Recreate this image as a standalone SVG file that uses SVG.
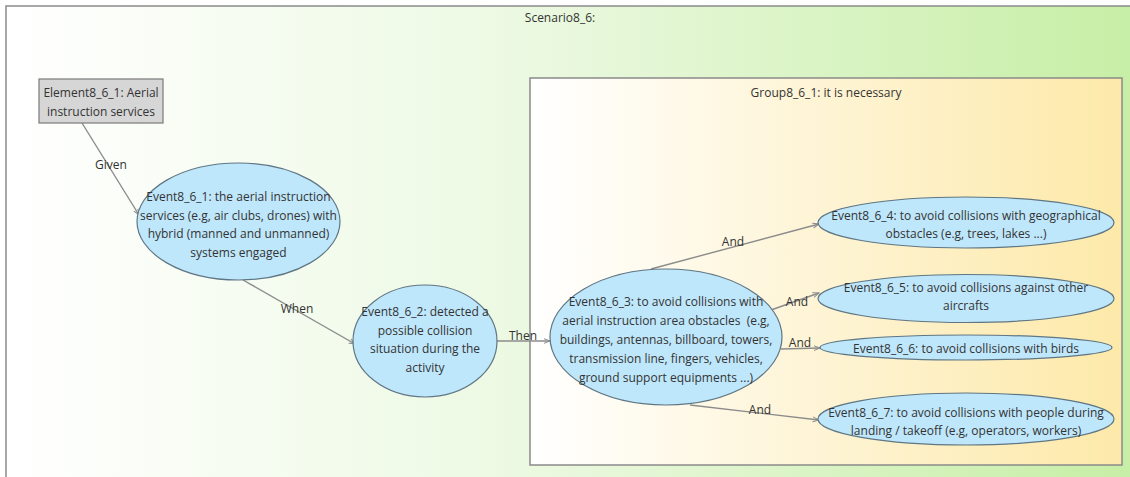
<svg xmlns="http://www.w3.org/2000/svg" width="1130" height="477" viewBox="0 0 1130 477">
  <defs>
    <linearGradient id="scenarioFill" x1="0" y1="0" x2="1" y2="0">
      <stop offset="0" stop-color="#ffffff"/>
      <stop offset="0.45" stop-color="#ecf9e2"/>
      <stop offset="1" stop-color="#c6eea4"/>
    </linearGradient>
    <linearGradient id="groupFill" x1="0" y1="0" x2="1" y2="0">
      <stop offset="0" stop-color="#ffffff"/>
      <stop offset="1" stop-color="#fde9a9"/>
    </linearGradient>
    <marker id="arrow" viewBox="0 0 10 10" refX="9" refY="5" markerWidth="7" markerHeight="7" orient="auto" markerUnits="userSpaceOnUse">
      <path d="M0,1.5 L9,5 L0,8.5" fill="none" stroke="#8c8c8c" stroke-width="1.4"/>
    </marker>
  </defs>
  <style>
    text { font-family: "Open Sans", "Noto Sans", "DejaVu Sans", sans-serif; font-size: 12px; fill: #333333; text-anchor: middle; }
    .event { fill: #bfe7fb; stroke: #5f7684; stroke-width: 1.2; }
    .element { fill: #d6d6d6; stroke: #7a7a7a; stroke-width: 1.2; }
    .edge { fill: none; stroke: #8c8c8c; stroke-width: 1.4; marker-end: url(#arrow); }
    .frame { stroke: #8a8a8a; stroke-width: 1.5; }
  </style>

  <rect width="1130" height="477" fill="#ffffff"/>

  <!-- scenario frame -->
  <g id="scenario">
    <rect x="6" y="6" width="1140" height="490" fill="url(#scenarioFill)" class="frame"/>
    <text x="560" y="22">Scenario8_6:</text>
  </g>

  <!-- group frame -->
  <g id="group8_6_1">
    <rect x="530" y="78" width="592" height="387" fill="url(#groupFill)" class="frame"/>
    <text x="826" y="97">Group8_6_1: it is necessary</text>
  </g>

  <!-- connectors -->
  <g id="connectors">
    <line class="edge" x1="82" y1="123" x2="139" y2="215"/>
    <text x="111" y="169">Given</text>
    <line class="edge" x1="243" y1="280" x2="355" y2="344"/>
    <text x="297" y="313">When</text>
    <line class="edge" x1="497" y1="341" x2="550" y2="341"/>
    <text x="523" y="340">Then</text>
    <line class="edge" x1="651" y1="269" x2="819" y2="224"/>
    <text x="733" y="246">And</text>
    <line class="edge" x1="771" y1="310" x2="819" y2="293"/>
    <text x="797" y="306">And</text>
    <line class="edge" x1="781" y1="349" x2="820" y2="348"/>
    <text x="800" y="347">And</text>
    <line class="edge" x1="690" y1="405" x2="819" y2="420"/>
    <text x="760" y="414">And</text>
  </g>

  <g id="element8_6_1">
    <rect class="element" x="39" y="79" width="124" height="44"/>
    <text x="101" y="97">Element8_6_1: Aerial</text>
    <text x="101" y="116">instruction services</text>
  </g>

  <g id="event8_6_1">
    <ellipse class="event" cx="238.5" cy="221.5" rx="101.5" ry="58.5"/>
    <text x="238.5" y="201">Event8_6_1: the aerial instruction</text>
    <text x="238.5" y="219.5">services (e.g, air clubs, drones) with</text>
    <text x="238.5" y="238">hybrid (manned and unmanned)</text>
    <text x="238.5" y="256.5">systems engaged</text>
  </g>

  <g id="event8_6_2">
    <ellipse class="event" cx="425" cy="341" rx="72" ry="56"/>
    <text x="425" y="316">Event8_6_2: detected a</text>
    <text x="425" y="334.5">possible collision</text>
    <text x="425" y="353">situation during the</text>
    <text x="425" y="371.5">activity</text>
  </g>

  <g id="event8_6_3">
    <ellipse class="event" cx="666" cy="337" rx="116" ry="68"/>
    <text x="666" y="306">Event8_6_3: to avoid collisions with</text>
    <text x="666" y="325" xml:space="preserve">aerial instruction area obstacles  (e.g,</text>
    <text x="666" y="344">buildings, antennas, billboard, towers,</text>
    <text x="666" y="363">transmission line, fingers, vehicles,</text>
    <text x="666" y="382">ground support equipments ...)</text>
  </g>

  <g id="event8_6_4">
    <ellipse class="event" cx="966" cy="222.5" rx="148" ry="25.5"/>
    <text x="966" y="219.5">Event8_6_4: to avoid collisions with geographical</text>
    <text x="966" y="237.5">obstacles (e.g, trees, lakes ...)</text>
  </g>

  <g id="event8_6_5">
    <ellipse class="event" cx="966" cy="298.5" rx="148" ry="24"/>
    <text x="966" y="291.5">Event8_6_5: to avoid collisions against other</text>
    <text x="966" y="309.5">aircrafts</text>
  </g>

  <g id="event8_6_6">
    <ellipse class="event" cx="966" cy="347.5" rx="146" ry="12.5"/>
    <text x="966" y="353">Event8_6_6: to avoid collisions with birds</text>
  </g>

  <g id="event8_6_7">
    <ellipse class="event" cx="966" cy="419" rx="148" ry="26"/>
    <text x="966" y="417">Event8_6_7: to avoid collisions with people during</text>
    <text x="966" y="435">landing / takeoff (e.g, operators, workers)</text>
  </g>
</svg>
